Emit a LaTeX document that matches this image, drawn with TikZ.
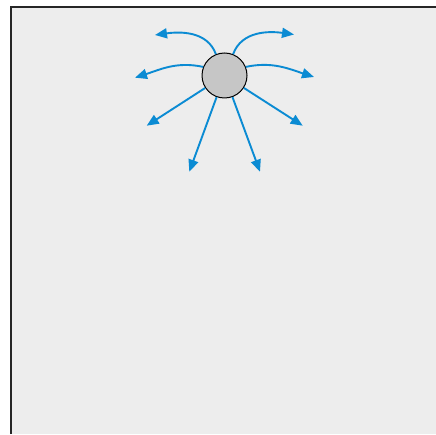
\documentclass[tikz,border=0pt]{standalone}
\usepackage{tikz}
\usetikzlibrary{arrows.meta}
\definecolor{PanelGray}{HTML}{EDEDED}
\definecolor{SourceGray}{HTML}{C6C6C6}
\definecolor{FluxBlue}{HTML}{0B8BD3}

\begin{document}
\begin{tikzpicture}[x=1pt, y=1pt]
  \tikzstyle{source}=[circle, draw=black, line width=1pt, fill=SourceGray, minimum size=45pt, inner sep=0pt]
  \tikzstyle{flux}=[-{Triangle[length=12pt, width=10pt]}, line width=1.9pt, color=FluxBlue]
  \useasboundingbox (0,0) rectangle (436,434);
  \fill[PanelGray] (10.7,0) rectangle (436,427.3);
  \draw[line width=1.7pt, color=black!85] (10.7,0) -- (10.7,427.3) -- (436,427.3);
  \node[source] (src) at (224.5,358.5) {};
  \coordinate (tl) at (155,399);
  \coordinate (tr) at (294,399.5);
  \coordinate (ml) at (135,356.3);
  \coordinate (mr) at (314,357);
  \coordinate (ll) at (146.7,308.3);
  \coordinate (lr) at (302.7,308.3);
  \coordinate (bl) at (189.3,262.3);
  \coordinate (br) at (260,262.3);
  \draw[flux] (src.112) to[out=110, in=8] (tl);
  \draw[flux] (src.68) to[out=70, in=172] (tr);
  \draw[flux] (src.158) to[out=168, in=18] (ml);
  \draw[flux] (src.22) to[out=12, in=162] (mr);
  \draw[flux] (src) -- (ll);
  \draw[flux] (src) -- (lr);
  \draw[flux] (src) -- (bl);
  \draw[flux] (src) -- (br);
\end{tikzpicture}
\end{document}
